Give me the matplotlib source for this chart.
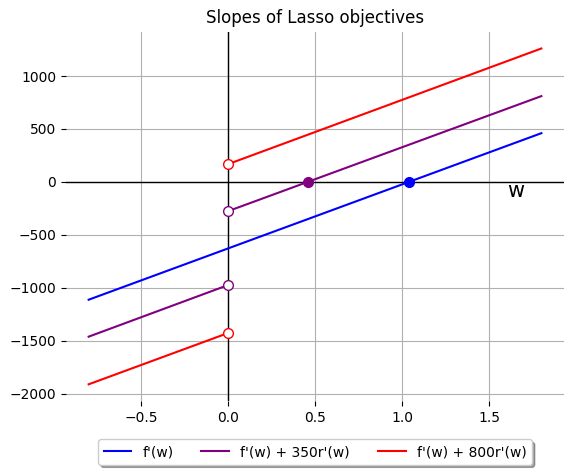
import numpy as np
import matplotlib.pyplot as plt

# endpoints
w_neg = np.array([-0.8, 0.0])
w_pos = np.array([0.0, 1.8])
w_all = np.array([-0.8, 1.8])

f_all = np.array([-1113, 460])
f350_neg = np.array([-1462, -975])
f350_pos = np.array([-277, 810])
f800_neg = np.array([-1912, -1428])
f800_pos = np.array([167, 1260])

zero_350 = 0.46
zero_f = 1.04

labels = ["f'(w)", "f'(w) + 350r'(w)", "f'(w) + 800r'(w)"]

if __name__ == '__main__':
    fig, ax = plt.subplots(figsize=(5.72, 4.73), dpi=100)

    ax.axhline(0, color='black', lw=1.0, zorder=1)
    ax.axvline(0, color='black', lw=1.0, zorder=1)

    ax.plot(w_all, f_all, color='blue', label=labels[0], zorder=2)
    ax.plot(w_neg, f350_neg, color='purple', label=labels[1], zorder=2)
    ax.plot(w_pos, f350_pos, color='purple', zorder=2)
    ax.plot(w_neg, f800_neg, color='red', label=labels[2], zorder=2)
    ax.plot(w_pos, f800_pos, color='red', zorder=2)

    # open ends at w = 0
    ax.plot([0, 0], [f350_neg[1], f350_pos[0]], 'o', color='purple', mfc='white', ms=7, zorder=3)
    ax.plot([0, 0], [f800_neg[1], f800_pos[0]], 'o', color='red', mfc='white', ms=7, zorder=3)

    # roots
    ax.plot(zero_350, 0, 'o', color='purple', ms=7, zorder=3)
    ax.plot(zero_f, 0, 'o', color='blue', ms=7, zorder=3)

    ax.text(1.65, -90, 'w', fontsize=15, ha='center', va='center')

    for s in ax.spines.values():
        s.set_visible(False)
    ax.grid(True, color='#b0b0b0')
    ax.set_axisbelow(True)
    ax.set_title('Slopes of Lasso objectives')
    ax.legend(loc='upper center', bbox_to_anchor=(0.5, -0.085), ncol=3,
              fancybox=True, shadow=True)

    plt.subplots_adjust(left=0.1154, right=0.986, top=0.933, bottom=0.152)
    plt.savefig('out.png')
